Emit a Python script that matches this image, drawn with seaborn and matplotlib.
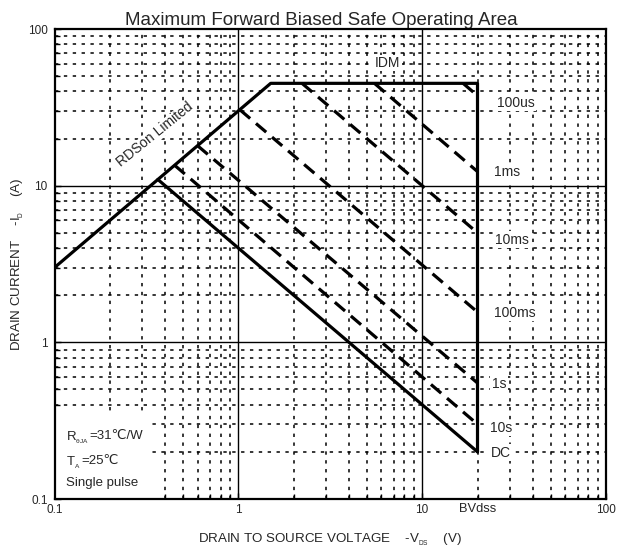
import matplotlib
matplotlib.use("Agg")
import matplotlib.pyplot as plt
import seaborn as sns
from matplotlib.patches import Rectangle
from matplotlib.ticker import LogLocator, NullFormatter, FixedLocator, FixedFormatter

sns.set_theme(style="white")
plt.rcParams['font.family'] = ['Liberation Sans', 'DejaVu Sans']
plt.rcParams['mathtext.fontset'] = 'custom'
plt.rcParams['mathtext.rm'] = 'Liberation Sans'
plt.rcParams['mathtext.it'] = 'Liberation Sans'
plt.rcParams['mathtext.bf'] = 'Liberation Sans'
plt.rcParams['mathtext.sf'] = 'Liberation Sans'

# ---- data ----
boundary_v = [0.1, 1.5, 20, 20]
boundary_i = [3.0, 45.0, 45.0, 0.2]
dc_v = [0.365, 20]
dc_i = [10.95, 0.2]
pulse_names = ['100us', '1ms', '10ms', '100ms', '1s', '10s']
pulse_v_start = [16.7, 5.5, 2.22, 1.02, 0.60, 0.45]
pulse_i_start = [45.0, 45.0, 45.0, 30.5, 18.0, 13.5]
pulse_v_end = [20, 20, 20, 20, 20, 20]
pulse_i_end = [37.5, 12.3, 5.0, 1.56, 0.55, 0.30]
label_text = ['100us', '1ms', '10ms', '100ms', '1s', '10s', 'DC']
label_x = [25.5, 24.6, 25.0, 24.6, 23.9, 23.3, 23.6]
label_y = [33.9, 12.3, 4.52, 1.55, 0.543, 0.284, 0.197]
x_ticks = [0.1, 1, 10, 100]
x_tick_labels = ['0.1', '1', '10', '100']
y_ticks = [0.1, 1, 10, 100]
y_tick_labels = ['0.1', '1', '10', '100']
bv_label = 'BVdss'
bv_value = 20

L, R, T, B = 54.5, 606.0, 29.0, 499.0
fig = plt.figure(figsize=(6.17, 5.51), dpi=100)
ax = fig.add_axes([L/617, 1-B/551, (R-L)/617, (B-T)/551])

lw_main = 2.3
sns.lineplot(x=boundary_v, y=boundary_i, ax=ax, color='black', lw=lw_main,
             sort=False, estimator=None, zorder=5)
sns.lineplot(x=dc_v, y=dc_i, ax=ax, color='black', lw=lw_main,
             sort=False, estimator=None, zorder=5)
for vs, is_, ve, ie in zip(pulse_v_start, pulse_i_start, pulse_v_end, pulse_i_end):
    sns.lineplot(x=[vs, ve], y=[is_, ie], ax=ax, color='black', lw=lw_main,
                 linestyle=(0, (4.2, 2.4)), sort=False, estimator=None, zorder=5)

ax.set_xscale('log')
ax.set_yscale('log')
ax.set_xlim(0.1, 100)
ax.set_ylim(0.1, 100)

ax.xaxis.set_major_locator(FixedLocator(x_ticks))
ax.xaxis.set_major_formatter(FixedFormatter(x_tick_labels))
ax.yaxis.set_major_locator(FixedLocator(y_ticks))
ax.yaxis.set_major_formatter(FixedFormatter(y_tick_labels))
ax.xaxis.set_minor_locator(LogLocator(base=10, subs=range(2, 10)))
ax.yaxis.set_minor_locator(LogLocator(base=10, subs=range(2, 10)))
ax.xaxis.set_minor_formatter(NullFormatter())
ax.yaxis.set_minor_formatter(NullFormatter())

# grid drawn as lines so a blank box can sit above it and below the ticks
dot = (0, (2.2, 3.6))
for dec in [0.1, 1, 10]:
    for k in range(2, 10):
        ax.axvline(dec * k, color='black', lw=1.1, linestyle=dot, zorder=1)
        ax.axhline(dec * k, color='black', lw=1.1, linestyle=dot, zorder=1)
for v in [1, 10]:
    ax.axvline(v, color='black', lw=1.0, zorder=1.2)
    ax.axhline(v, color='black', lw=1.0, zorder=1.2)
ax.add_patch(Rectangle((0, 0), 0.173, 0.179, transform=ax.transAxes,
                       facecolor='white', edgecolor='none', zorder=1.5))

for s in ax.spines.values():
    s.set_color('black')
    s.set_linewidth(1.6)
    s.set_zorder(6)

ax.tick_params(which='both', direction='in', color='black', bottom=True, left=True,
               top=False, right=False, labelsize=8.5)
ax.tick_params(which='major', length=4, width=1)
ax.tick_params(which='minor', length=3.6, width=1)
ax.tick_params(axis='x', pad=3.6)
ax.tick_params(axis='y', pad=5.0)

ax.text(bv_value, -(512 - B) / (B - T), bv_label, transform=ax.get_xaxis_transform(),
        ha='center', va='baseline', fontsize=9.3)

ax.set_title('Maximum Forward Biased Safe Operating Area', fontsize=13.5, pad=1.0,
             x=0.4846)
ax.set_xlabel('DRAIN TO SOURCE VOLTAGE    -V$_{_{DS}}$    (V)', fontsize=9.6, labelpad=11)
ax.set_ylabel('DRAIN CURRENT    -I$_{_D}$    (A)', fontsize=9.6, labelpad=1.5)

bbox = dict(facecolor='white', edgecolor='none', pad=1.0)
for t, x, y in zip(label_text, label_x, label_y):
    ax.text(x, y, t, ha='left', va='center', fontsize=10, bbox=bbox, zorder=7)
ax.text(6.49, 60.7, 'IDM', ha='center', va='center', fontsize=10, bbox=bbox, zorder=7)
ax.text(0.353, 21.1, 'RDSon Limited', rotation=39, ha='center', va='center', fontsize=10,
        bbox=dict(facecolor='white', edgecolor='none', pad=0.3), zorder=7)

t1 = ax.text(0.116, 0.236, 'R$_{_{\\theta JA}}$', ha='left', va='baseline', fontsize=9.5,
             zorder=7)
ax.annotate('=31℃/W', xy=(1, 1), xycoords=t1, ha='left', va='top', fontsize=9.5, zorder=7)
t2 = ax.text(0.116, 0.163, 'T$_{_A}$', ha='left', va='baseline', fontsize=9.5, zorder=7)
ax.annotate('=25℃', xy=(1, 1), xycoords=t2, ha='left', va='top', fontsize=9.5, zorder=7)
ax.text(0.116, 0.121, 'Single pulse', ha='left', va='baseline', fontsize=9.5, zorder=7)

fig.savefig('out.png', dpi=100)
